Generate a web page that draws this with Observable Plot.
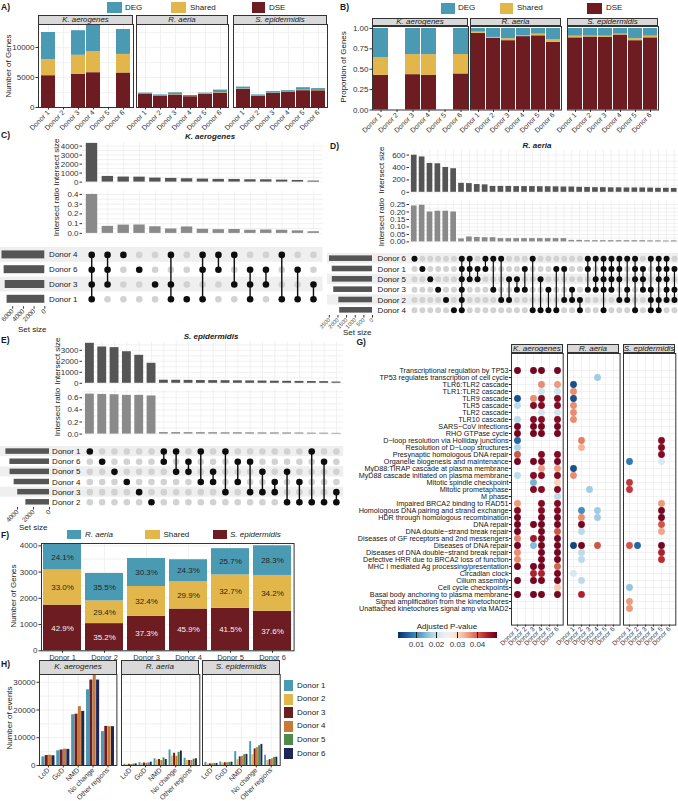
<!DOCTYPE html>
<html><head><meta charset="utf-8">
<script src="https://cdn.jsdelivr.net/npm/d3@7"></script>
<script src="https://cdn.jsdelivr.net/npm/@observablehq/plot@0.6"></script>
<style>
html,body{margin:0;padding:0;background:#fff;}
#page{position:relative;width:678px;height:801px;overflow:hidden;background:#fff;font-family:'Liberation Sans',Arial,Helvetica,sans-serif;color:#1a1a1a;}
#page svg{overflow:visible;}
.t{position:absolute;white-space:nowrap;line-height:1;}
</style></head>
<body><div id="page"></div>
<script>
// ---------- shared categories ----------
const donors = ["Donor 1", "Donor 2", "Donor 3", "Donor 4", "Donor 5", "Donor 6"];
const species = ["K. aerogenes", "R. aeria", "S. epidermidis"];
const geneClasses = ["DSE", "Shared", "DEG"];
const geneColors = ["#6d1d22", "#e2b64b", "#4a9ab3"];
const donorColors = ["#4a9ab3", "#e2b64b", "#6d1d22", "#c67a35", "#4e8a48", "#1e2657"];

// ---------- A/B: genes per class, donor order ----------
const kaeDSE = [5300, 0, 5550, 5800, 0, 5750];
const kaeShared = [2700, 0, 3150, 3500, 0, 3100];
const kaeDEG = [4500, 0, 4100, 4400, 0, 4150];
const raeDSE = [2256, 1848, 2083, 1800, 2184, 2407];
const raeShared = [36, 21, 61, 20, 48, 87];
const raeDEG = [108, 231, 306, 180, 168, 406];
const sepDSE = [3009, 1880, 2359, 2576, 2805, 2788];
const sepShared = [68, 21, 40, 28, 83, 63];
const sepDEG = [323, 199, 251, 196, 412, 299];

// ---------- C: K. aerogenes intersections ----------
const cSets = ["Donor 4", "Donor 6", "Donor 3", "Donor 1"];
const cSetSizes = [8000, 7600, 7400, 7050];
const cCombos = [[0,1,2,3],[0,1,2],[0],[1],[2],[0,2,3],[3],[0,1,3],[0,1],[0,2],[1,2,3],[1,2],[0,3],[1,3],[2,3]];
const cSizes = [4300, 630, 560, 550, 445, 410, 370, 335, 300, 295, 262, 258, 222, 185, 110];
const cRatios = [0.40, 0.072, 0.085, 0.086, 0.068, 0.045, 0.066, 0.042, 0.038, 0.040, 0.032, 0.035, 0.032, 0.026, 0.017];

// ---------- D: R. aeria intersections ----------
const dSets = ["Donor 6", "Donor 1", "Donor 5", "Donor 3", "Donor 2", "Donor 4"];
const dSetSizes = [2490, 2330, 2325, 2245, 1950, 1900];
const dCombos = [[0],[1],[2],[3],[4],[5],[0,1,2,3,4,5],[0,1,2],[1,2],[0,1],[0,3],[0,4],[2,4],[2,3],[1,3],[0,5],[2,5],[3,5],[1,5],[1,4],[3,4],[4,5],
  [0,1,3],[0,2,3],[0,1,2,3,5],[0,1,2,3],[0,1,2,4],[0,3,4],[0,1,2,5],[1,2,3],[0,3,4,5],[0,1,2,4,5],[0,1,2,3,4],[1,3,4]];
const dSizes = [598, 570, 465, 460, 400, 380, 145, 140, 125, 120, 95, 95, 95, 92, 92, 92, 90, 90, 88, 85, 85, 80, 78, 75, 75, 72, 72, 70, 70, 70, 68, 65, 65, 62];
const dRatios = [0.24, 0.245, 0.20, 0.205, 0.205, 0.20, 0.02, 0.033, 0.03, 0.028, 0.028, 0.022, 0.022, 0.022, 0.022, 0.022, 0.022, 0.022, 0.022, 0.022,
  0.01, 0.01, 0.008, 0.008, 0.008, 0.008, 0.008, 0.008, 0.008, 0.008, 0.007, 0.007, 0.006, 0.007];

// ---------- E: S. epidermidis intersections ----------
const eSets = ["Donor 1", "Donor 6", "Donor 5", "Donor 4", "Donor 3", "Donor 2"];
const eSetSizes = [5450, 4950, 4930, 4420, 3970, 2950];
const eCombos = [[0],[1],[2],[3],[4],[5],[0,1],[0,2],[1,2],[0,3],[2,3],[0,4],[1,3],[1,4],[2,4],[3,4],[2,5],[3,5],[0,5],[1,5],[4,5]];
const eSizes = [3636, 3300, 3240, 2870, 2545, 1820, 280, 275, 265, 250, 245, 235, 225, 215, 205, 190, 180, 170, 160, 150, 110];
const eRatios = [0.66, 0.655, 0.65, 0.64, 0.64, 0.63, 0.025, 0.025, 0.024, 0.024, 0.023, 0.022, 0.022, 0.021, 0.02, 0.02, 0.019, 0.018, 0.016, 0.015, 0.012];

// ---------- F: genes shared between R. aeria and S. epidermidis ----------
const fClasses = ["S. epidermidis", "Shared", "R. aeria"];
const fTotals = [4058, 2945, 3517, 3467, 3898, 4000];
const fSepPct = [42.9, 35.2, 37.3, 45.9, 41.5, 37.6];
const fSharedPct = [33.0, 29.4, 32.4, 29.9, 32.7, 34.2];
const fRaePct = [24.1, 35.5, 30.3, 24.3, 25.7, 28.3];

// ---------- G: enriched pathways [pathway #, donor #, adjusted p] ----------
const pathways = [
  "Transcriptional regulation by TP53", "TP53 regulates transcription of cell cycle", "TLR6:TLR2 cascade", "TLR1:TLR2 cascade",
  "TLR9 cascade", "TLR5 cascade", "TLR2 cascade", "TLR10 cascade", "SARS\u2212CoV infections", "RHO GTPase cycle",
  "D\u2212loop resolution via Holliday junctions", "Resolution of D\u2212Loop structures", "Presynaptic homologous DNA repair",
  "Organelle biogenesis and maintenance", "MyD88:TIRAP cascade at plasma membrane", "MyD88 cascade initiated on plasma membrane",
  "Mitotic spindle checkpoint", "Mitotic prometaphase", "M phase", "Impaired BRCA2 binding to RAD51",
  "Homologous DNA pairing and strand exchange", "HDR through homologous recombination", "DNA repair",
  "DNA double\u2212strand break repair", "Diseases of GF receptors and 2nd messengers", "Diseases of DNA repair",
  "Diseases of DNA double\u2212strand break repair", "Defective HRR due to BRCA2 loss of function",
  "MHC I mediated Ag processing/presentation", "Circadian clock", "Cilium assembly", "Cell cycle checkpoints",
  "Basal body anchoring to plasma membrane", "Signal amplification from the kinetochores",
  "Unattached kinetochores signal amp via MAD2"
];
const kaeEnrich = [
  [1,1,.049],[1,3,.049],[1,4,.049],[1,6,.049],[3,4,.037],[3,6,.036],[4,4,.021],[4,6,.021],
  [5,1,.004],[5,3,.037],[5,4,.048],[5,6,.048],[6,1,.019],[6,3,.048],[6,4,.048],[6,6,.048],
  [7,4,.021],[7,6,.021],[8,1,.019],[8,3,.048],[8,4,.048],[8,6,.048],
  [9,1,.049],[9,3,.049],[9,4,.049],[9,6,.049],[10,1,.049],[10,3,.049],[10,4,.049],[10,6,.049],
  [11,1,.006],[12,1,.018],[13,1,.041],[13,4,.048],[13,6,.048],
  [14,1,.049],[14,3,.049],[14,4,.049],[14,6,.049],[15,4,.036],[15,6,.036],
  [16,1,.019],[16,3,.048],[16,4,.048],[16,6,.048],[17,3,.014],[17,6,.031],
  [18,3,.048],[18,4,.048],[18,6,.048],[19,6,.019],[20,1,.036],[20,4,.048],[20,6,.048],
  [21,1,.048],[21,4,.048],[21,6,.048],[22,1,.049],[22,4,.049],[22,6,.049],
  [23,1,.049],[23,3,.049],[23,4,.049],[23,6,.049],[24,1,.049],[24,4,.049],[24,6,.041],
  [25,1,.038],[25,3,.046],[25,4,.049],[25,6,.049],[26,1,.049],[26,3,.015],[26,4,.049],[26,6,.049],
  [27,1,.037],[27,4,.049],[27,6,.049],[28,1,.037],[28,4,.049],[28,6,.049],
  [29,1,.049],[29,3,.049],[29,4,.049],[29,6,.040],[30,3,.045],[30,4,.045],[30,6,.049],
  [31,1,.049],[31,3,.049],[31,4,.049],[31,6,.049],[32,6,.032],
  [33,1,.049],[33,3,.049],[33,4,.049],[33,6,.049]
];
const raeEnrich = [
  [2,4,.017],[3,1,.004],[4,1,.037],[5,1,.004],[6,1,.037],[7,1,.037],[8,1,.037],
  [11,2,.038],[12,2,.034],[15,1,.004],[16,1,.037],[18,3,.017],
  [21,2,.010],[21,4,.017],[22,2,.037],[22,4,.017],[23,2,.049],[24,2,.019],
  [26,1,.003],[26,2,.049],[26,4,.041],[27,2,.019],[28,2,.019],[30,1,.022],[31,2,.019],[33,2,.045]
];
const sepEnrich = [
  [11,5,.048],[12,5,.048],[13,5,.048],[14,1,.008],[14,5,.022],[17,1,.043],[18,1,.043],
  [20,5,.036],[21,5,.049],[22,5,.049],[23,5,.041],[24,5,.035],
  [26,1,.041],[26,2,.006],[26,5,.049],[27,5,.045],[28,5,.044],[32,1,.016],[34,1,.036],[35,1,.036]
];

// ---------- H: splicing events per donor (LoD, GoD, NMD, No change, Other regions) ----------
const eventTypes = ["LoD", "GoD", "NMD", "No change", "Other regions"];
const kaeEvents = [[3100,5300,18300,27300,12200], null, [3600,5600,18500,30800,14100], [3700,5900,21200,33500,14000], null, [3500,5800,19500,30800,14000]];
const raeEvents = [[450,1000,2400,5600,2600], [300,700,2000,3400,1800], [400,900,2150,4400,1800], [350,800,1800,3300,1800], [500,900,2750,4700,2300], [600,1200,2150,5200,2400]];
const sepEvents = [[1100,1300,5000,8600,3700], [500,800,2100,3900,1800], [600,1000,3100,6000,2100], [600,1000,3300,6400,2400], [650,1100,3900,7100,2900], [700,1200,4000,7600,3000]];

// ================= drawing helpers =================
const FONT = "'Liberation Sans', Arial, Helvetica, sans-serif";
const INK = "#1a1a1a", TICK = "#333333", GRID = "#ebebeb", EDGE = "#333333";
const plain = d3.format("d");
const page = document.getElementById("page");

function mount(node, left, top) {
  node.style.position = "absolute";
  node.style.left = left + "px";
  node.style.top = top + "px";
  page.appendChild(node);
  return node;
}

// Plot whose frame occupies exactly [x0,x1] x [y0,y1] on the page
function chart(x0, y0, x1, y1, m, opts) {
  const l = m.l || 0, r = m.r || 0, t = m.t || 0, b = m.b || 0;
  const svg = Plot.plot({
    width: x1 - x0 + l + r,
    height: y1 - y0 + t + b,
    marginLeft: l, marginRight: r, marginTop: t, marginBottom: b,
    style: {fontFamily: FONT, fontSize: "8px", color: TICK, background: "transparent", overflow: "visible"},
    ...opts
  });
  return mount(svg, x0 - l, y0 - t);
}

function label(s, x, y, o = {}) {
  const d = document.createElement("div");
  d.className = "t";
  d.textContent = s;
  d.style.left = x + "px";
  d.style.top = y + "px";
  d.style.fontSize = (o.size || 8) + "px";
  if (o.bold) d.style.fontWeight = "bold";
  if (o.italic) d.style.fontStyle = "italic";
  d.style.color = o.color || INK;
  const ax = o.anchor === "middle" ? "-50%" : o.anchor === "end" ? "-100%" : "0";
  d.style.transform = `translate(${ax},-50%)` + (o.rotate ? ` rotate(${o.rotate}deg)` : "");
  page.appendChild(d);
}

function strip(s, x0, x1, y0, y1, size) {
  const d = document.createElement("div");
  Object.assign(d.style, {
    position: "absolute", left: x0 + "px", top: y0 + "px", width: (x1 - x0) + "px", height: (y1 - y0) + "px",
    boxSizing: "border-box", background: "#d9d9d9", border: "1px solid " + EDGE, fontStyle: "italic",
    fontSize: size + "px", lineHeight: (y1 - y0 - 2) + "px", textAlign: "center", color: INK, whiteSpace: "nowrap"
  });
  d.textContent = s;
  page.appendChild(d);
}

function swatch(x0, y0, x1, y1, color) {
  const d = document.createElement("div");
  Object.assign(d.style, {position: "absolute", left: x0 + "px", top: y0 + "px", width: (x1 - x0) + "px",
    height: (y1 - y0) + "px", background: color, boxSizing: "border-box", border: "1px solid #fff"});
  page.appendChild(d);
}

const gridOpts = {stroke: GRID, strokeOpacity: 1, strokeWidth: 0.7};

// ================= A) gene counts =================
label("A)", 1, 7, {bold: true, size: 8.5});
swatch(106, 1, 123, 13.5, geneColors[2]); label("DEG", 125, 7.5);
swatch(170, 1, 187, 13.5, geneColors[1]); label("Shared", 190, 7.5);
swatch(251, 1, 266, 13.5, geneColors[0]); label("DSE", 269, 7.5);
label("Number of Genes", 9, 66, {anchor: "middle", rotate: -90});

const geneCounts = [[kaeDSE, kaeShared, kaeDEG], [raeDSE, raeShared, raeDEG], [sepDSE, sepShared, sepDEG]];
function geneRows(si) {
  const rows = [];
  donors.forEach((d, di) => geneClasses.forEach((c, ci) => rows.push({donor: d, cls: c, n: geneCounts[si][ci][di]})));
  return rows.filter(r => r.n > 0);
}
const aPanels = [[38, 133], [136, 228], [233, 327]];
species.forEach((sp, si) => {
  const [x0, x1] = aPanels[si];
  strip(sp, x0, x1, 15, 24.5, 7.8);
  const y = {domain: [0, 13833]};
  if (si) y.axis = null;
  chart(x0, 24, x1, 107, {l: si ? 0 : 40, b: 32}, {
    x: {domain: donors, paddingInner: 0.1, paddingOuter: 0.05},
    y,
    color: {domain: geneClasses, range: geneColors},
    marks: [
      Plot.gridY([0, 2500, 5000, 7500, 10000, 12500], gridOpts),
      Plot.gridX(gridOpts),
      Plot.barY(geneRows(si), {x: "donor", y: "n", fill: "cls"}),
      Plot.axisX({tickRotate: -45, tickSize: 2.5, tickPadding: 1.5, fontSize: 7, label: null}),
      si ? null : Plot.axisY([0, 5000, 10000], {tickFormat: plain, tickSize: 2.5, tickPadding: 1.5, label: null}),
      Plot.frame({stroke: EDGE})
    ]
  });
});

// ================= B) gene proportions =================
label("B)", 340, 7, {bold: true, size: 8.5});
swatch(440, 1.5, 456, 14.5, geneColors[2]); label("DEG", 458, 8);
swatch(499, 1.5, 514, 14.5, geneColors[1]); label("Shared", 517, 8);
swatch(586, 1.5, 603, 14.5, geneColors[0]); label("DSE", 606, 8);
label("Proportion of Genes", 344, 67, {anchor: "middle", rotate: -90});

const bPanels = [[372, 468], [470, 561], [567, 658]];
species.forEach((sp, si) => {
  const [x0, x1] = bPanels[si];
  strip(sp, x0, x1, 18, 26, 8);
  const y = {domain: [0, 1.024]};
  if (si) y.axis = null;
  chart(x0, 25.5, x1, 109, {l: si ? 0 : 40, b: 32}, {
    x: {domain: donors, paddingInner: 0.09, paddingOuter: 0},
    y,
    color: {domain: geneClasses, range: geneColors},
    marks: [
      Plot.barY(geneRows(si), {x: "donor", y: "n", fill: "cls", offset: "normalize"}),
      Plot.axisX({tickRotate: -45, tickSize: 2.5, tickPadding: 1.5, fontSize: 7, label: null}),
      si ? null : Plot.axisY([0, 0.25, 0.5, 0.75, 1], {tickFormat: d3.format(".2f"), tickSize: 2.5, tickPadding: 1.5, label: null}),
      Plot.frame({stroke: EDGE})
    ]
  });
});

// ================= UpSet panels (C, D, E) =================
function upset(u) {
  const n = u.sizes.length, k = u.sets.length;
  const step = (u.lastX - u.firstX) / (n - 1);
  const fx0 = u.firstX - 0.6 * step, fx1 = u.lastX + 0.6 * step;
  const cols = d3.range(n);
  const bars = cols.map(i => ({i, size: u.sizes[i], ratio: u.ratios[i]}));
  const half = 0.36;

  label(u.title, u.titleX, u.titleY, {anchor: "middle", bold: true, italic: true, size: 8});

  // intersection sizes
  chart(fx0, u.sizeY[0], fx1, u.sizeY[1], {l: 30}, {
    x: {domain: [-0.6, n - 0.4], axis: null},
    y: {domain: [0, u.sizeMax]},
    marks: [
      Plot.gridY(u.sizeGrid, gridOpts),
      Plot.gridX(cols, gridOpts),
      Plot.rect(bars, {x1: d => d.i - half, x2: d => d.i + half, y1: 0, y2: "size", fill: "#555555"}),
      Plot.axisY(u.sizeTicks, {tickFormat: plain, tickSize: 2.5, tickPadding: 1.5, label: null})
    ]
  });
  label("Intersect size", u.axisTitleX, (u.sizeY[0] + u.sizeY[1]) / 2, {anchor: "middle", rotate: -90});

  // intersection ratios
  chart(fx0, u.ratioY[0], fx1, u.ratioY[1], {l: 30}, {
    x: {domain: [-0.6, n - 0.4], axis: null},
    y: {domain: [0, u.ratioMax]},
    marks: [
      Plot.gridY(u.ratioGrid, gridOpts),
      Plot.gridX(cols, gridOpts),
      Plot.rect(bars, {x1: d => d.i - half, x2: d => d.i + half, y1: 0, y2: "ratio", fill: "#8a8a8a"}),
      Plot.axisY(u.ratioTicks, {tickFormat: d3.format(u.ratioFmt), tickSize: 2.5, tickPadding: 1.5, label: null})
    ]
  });
  label("Intersect ratio", u.axisTitleX, (u.ratioY[0] + u.ratioY[1]) / 2, {anchor: "middle", rotate: -90});

  // membership matrix
  const rowsIdx = d3.range(k);
  const shaded = rowsIdx.filter(r => r % 2 === 0);
  const d0 = -0.6 - (fx0 - u.setZero) / step;
  const labelX = -0.6 - (fx0 - u.labelRight) / step;
  const cells = [];
  cols.forEach(i => rowsIdx.forEach(r => cells.push({i, r, on: u.combos[i].includes(r)})));
  const links = cols.map(i => ({i, a: d3.min(u.combos[i]), b: d3.max(u.combos[i])})).filter(d => d.a !== d.b);
  chart(u.setZero, u.matY[0], fx1, u.matY[1], {}, {
    x: {domain: [d0, n - 0.4], axis: null},
    y: {domain: [k - 0.5, -0.5], axis: null},
    marks: [
      Plot.rect(shaded, {x1: d0, x2: n - 0.4, y1: r => r - 0.5, y2: r => r + 0.5, fill: "#efefef"}),
      Plot.dot(cells.filter(c => !c.on), {x: "i", y: "r", r: u.dotR, fill: "#d2d2d2"}),
      Plot.ruleX(links, {x: "i", y1: "a", y2: "b", stroke: "#0d0d0d", strokeWidth: u.lineW}),
      Plot.dot(cells.filter(c => c.on), {x: "i", y: "r", r: u.dotR, fill: "#0d0d0d"}),
      Plot.text(u.sets, {x: labelX, y: (d, j) => j, text: d => d, textAnchor: "end", fontSize: 8, fill: INK})
    ]
  });

  // set sizes
  const setBars = u.sets.map((s, j) => ({j, size: u.setSizes[j]}));
  chart(u.setX0, u.matY[0], u.setZero, u.matY[1], {b: 24}, {
    x: {domain: [u.setMax, 0]},
    y: {domain: [k - 0.5, -0.5], axis: null},
    marks: [
      Plot.rect(shaded, {x1: u.setMax, x2: 0, y1: r => r - 0.5, y2: r => r + 0.5, fill: "#efefef"}),
      Plot.rect(setBars, {x1: 0, x2: "size", y1: d => d.j - 0.27, y2: d => d.j + 0.27, fill: "#555555"}),
      Plot.axisX(u.setTicks, {tickFormat: plain, tickRotate: -45, tickSize: 2.5, tickPadding: 1, fontSize: u.setFont, label: null})
    ]
  });
  label("Set size", u.setTitle[0], u.setTitle[1]);
}

label("C)", 1, 135, {bold: true, size: 8.5});
upset({
  title: "K. aerogenes", titleX: 210, titleY: 136.5,
  sets: cSets, setSizes: cSetSizes, combos: cCombos, sizes: cSizes, ratios: cRatios,
  firstX: 91.5, lastX: 313.3, axisTitleX: 57,
  sizeY: [142.4, 182], sizeMax: 4400, sizeTicks: [0, 1000, 2000, 3000, 4000], sizeGrid: d3.range(0, 4401, 500),
  ratioY: [191.4, 233.3], ratioMax: 0.43, ratioTicks: [0, 0.1, 0.2, 0.3, 0.4], ratioGrid: d3.range(0, 0.43, 0.05), ratioFmt: ".1f",
  matY: [246.9, 306.1], labelRight: 77.3, setX0: 0, setZero: 44.3, setMax: 8280, setTicks: [0, 2000, 4000, 6000],
  setFont: 6.5, dotR: 3.3, lineW: 1.4, setTitle: [18, 330]
});

label("D)", 330, 145.5, {bold: true, size: 8.5});
upset({
  title: "R. aeria", titleX: 537, titleY: 145.5,
  sets: dSets, setSizes: dSetSizes, combos: dCombos, sizes: dSizes, ratios: dRatios,
  firstX: 414, lastX: 674, axisTitleX: 381.7,
  sizeY: [148.9, 191.7], sizeMax: 690, sizeTicks: [0, 200, 400, 600], sizeGrid: d3.range(0, 691, 100),
  ratioY: [201.3, 241.7], ratioMax: 0.27, ratioTicks: [0, 0.05, 0.1, 0.15, 0.2, 0.25], ratioGrid: d3.range(0, 0.27, 0.025), ratioFmt: ".2f",
  matY: [252.5, 314.5], labelRight: 405.5, setX0: 327, setZero: 372, setMax: 2605, setTicks: [0, 500, 1000, 1500, 2000, 2500],
  setFont: 5.5, dotR: 3, lineW: 1.2, setTitle: [343, 333]
});

label("E)", 1, 340, {bold: true, size: 8.5});
upset({
  title: "S. epidermidis", titleX: 211, titleY: 336.7,
  sets: eSets, setSizes: eSetSizes, combos: eCombos, sizes: eSizes, ratios: eRatios,
  firstX: 89.3, lastX: 335.9, axisTitleX: 58,
  sizeY: [340.5, 382.3], sizeMax: 3800, sizeTicks: [0, 1000, 2000, 3000], sizeGrid: d3.range(0, 3801, 500),
  ratioY: [390.4, 434], ratioMax: 0.72, ratioTicks: [0, 0.2, 0.4, 0.6], ratioGrid: d3.range(0, 0.72, 0.1), ratioFmt: ".1f",
  matY: [445.9, 506.8], labelRight: 80, setX0: 0, setZero: 49, setMax: 6125, setTicks: [0, 2000, 4000],
  setFont: 6.5, dotR: 3.3, lineW: 1.4, setTitle: [19, 528]
});

// ================= F) R. aeria vs S. epidermidis =================
label("F)", 1, 535, {bold: true, size: 8.5});
swatch(66, 529, 82, 540, "#4a9ab3"); label("R. aeria", 85, 534.5, {italic: true});
swatch(144, 529, 161, 540, "#e2b64b"); label("Shared", 163.5, 534.5);
swatch(211.5, 529, 227.5, 540, "#6d1d22"); label("S. epidermidis", 230, 534.5, {italic: true});
label("Number of Genes", 13.5, 596, {anchor: "middle", rotate: -90});

const fRows = [];
donors.forEach((d, i) => {
  fRows.push({donor: d, cls: "S. epidermidis", pct: fSepPct[i], n: fTotals[i] * fSepPct[i] / 100});
  fRows.push({donor: d, cls: "Shared", pct: fSharedPct[i], n: fTotals[i] * fSharedPct[i] / 100});
  fRows.push({donor: d, cls: "R. aeria", pct: fRaePct[i], n: fTotals[i] * fRaePct[i] / 100});
});
const pctText = d => d.pct.toFixed(1) + "%";
chart(40.7, 542.7, 293.3, 650, {l: 30, b: 14}, {
  x: {domain: donors, paddingInner: 0.085, paddingOuter: 0},
  y: {domain: [0, 4090]},
  color: {domain: fClasses, range: ["#6d1d22", "#e2b64b", "#4a9ab3"]},
  marks: [
    Plot.gridY(d3.range(0, 4001, 500), gridOpts),
    Plot.gridX(gridOpts),
    Plot.barY(fRows, {x: "donor", y: "n", fill: "cls"}),
    Plot.text(fRows, Plot.stackY({x: "donor", y: "n", text: d => d.cls === "S. epidermidis" ? pctText(d) : "", fill: "#f0f0f0", fontSize: 8})),
    Plot.text(fRows, Plot.stackY({x: "donor", y: "n", text: d => d.cls === "S. epidermidis" ? "" : pctText(d), fill: "#262626", fontSize: 8})),
    Plot.axisX({tickSize: 2.5, tickPadding: 1.5, fontSize: 7.5, label: null}),
    Plot.axisY([0, 1000, 2000, 3000, 4000], {tickFormat: plain, tickSize: 2.5, tickPadding: 1.5, label: null}),
    Plot.frame({stroke: EDGE})
  ]
});

// ================= G) pathway enrichment =================
label("G)", 356.5, 342, {bold: true, size: 8.5});
const pColor = {type: "linear", scheme: "rdbu", reverse: true, domain: [0.001, 0.05]};
const enrich = [kaeEnrich, raeEnrich, sepEnrich];
const gPanels = [[511, 562.7], [566.7, 619.3], [622.7, 675]];
species.forEach((sp, si) => {
  const [x0, x1] = gPanels[si];
  strip(sp, x0, x1, 344, 353.2, 8);
  const rows = enrich[si].map(([r, d, p]) => ({pathway: pathways[r - 1], donor: donors[d - 1], p}));
  const y = {type: "point", domain: pathways, padding: 0.6};
  if (si) y.axis = null;
  chart(x0, 352.7, x1, 624.3, {l: si ? 0 : 175, b: 34}, {
    x: {type: "point", domain: donors, padding: 0.6},
    y,
    color: pColor,
    marks: [
      Plot.gridX(gridOpts),
      Plot.gridY(gridOpts),
      Plot.dot(rows, {x: "donor", y: "pathway", fill: "p", r: 3.4}),
      Plot.axisX({tickRotate: -45, tickSize: 2, tickPadding: 1, fontSize: 6.5, label: null}),
      si ? null : Plot.axisY({tickSize: 2, tickPadding: 1, fontSize: 7.2, label: null, color: "#141414"}),
      Plot.frame({stroke: EDGE})
    ]
  });
});
label("Adjusted P-value", 447, 627, {anchor: "middle"});
const leg = Plot.legend({
  color: pColor, label: null, ticks: [0.01, 0.02, 0.03, 0.04], tickFormat: d3.format(".2f"),
  width: 99, height: 18, marginTop: 0, marginBottom: 12, marginLeft: 0, marginRight: 0, tickSize: 0
});
leg.style.fontFamily = FONT;
leg.style.overflow = "visible";
leg.style.background = "transparent";
leg.querySelectorAll("text").forEach(t => { t.setAttribute("font-size", 8); t.setAttribute("fill", TICK); });
mount(leg, 398.3, 631.7);

// ================= H) splicing events =================
label("H)", 1, 664, {bold: true, size: 8.5});
label("Number of events", 9.5, 718, {anchor: "middle", rotate: -90});
const hEvents = [kaeEvents, raeEvents, sepEvents];
const hPanels = [[39.3, 116.7], [120.7, 199], [202.3, 280]];
species.forEach((sp, si) => {
  const [x0, x1] = hPanels[si];
  strip(sp, x0, x1, 660, 674.5, 8);
  const present = d3.range(donors.length).filter(di => hEvents[si][di]);
  const w = 0.9 / present.length;
  const rows = [];
  present.forEach((di, k) => eventTypes.forEach((e, ei) => rows.push({
    donor: donors[di], x1: ei - 0.45 + k * w, x2: ei - 0.45 + (k + 1) * w, n: hEvents[si][di][ei]
  })));
  const y = {domain: [0, 32800]};
  if (si) y.axis = null;
  chart(x0, 674, x1, 765, {l: si ? 0 : 32, b: 36}, {
    x: {domain: [-0.6, 4.6]},
    y,
    color: {domain: donors, range: donorColors},
    marks: [
      Plot.gridY(d3.range(0, 32001, 5000), gridOpts),
      Plot.gridX([0, 1, 2, 3, 4], gridOpts),
      Plot.rect(rows, {x1: "x1", x2: "x2", y1: 0, y2: "n", fill: "donor", insetLeft: 0.15, insetRight: 0.15, clip: true}),
      Plot.axisX([0, 1, 2, 3, 4], {tickFormat: i => eventTypes[i], tickRotate: -45, tickSize: 2.5, tickPadding: 1, fontSize: 7, label: null}),
      si ? null : Plot.axisY([0, 10000, 20000, 30000], {tickFormat: plain, tickSize: 2.5, tickPadding: 1.5, label: null}),
      Plot.frame({stroke: EDGE})
    ]
  });
});
donors.forEach((d, i) => {
  const yc = 685.5 + i * 13.6;
  swatch(282.7, yc - 6.6, 294.5, yc + 6.6, donorColors[i]);
  label(d, 297, yc, {size: 8});
});
</script>
</body></html>
